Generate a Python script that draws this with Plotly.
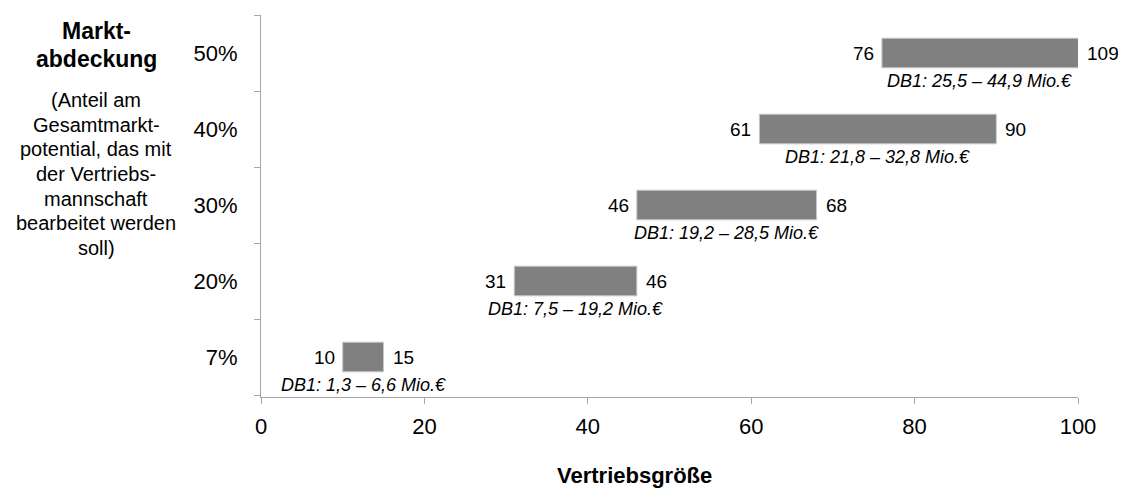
import plotly.graph_objects as go

# Data
coverage = ['7%', '20%', '30%', '40%', '50%']
size_low = [10, 31, 46, 61, 76]
size_high = [15, 46, 68, 90, 109]
db1_text = [
    'DB1: 1,3 – 6,6 Mio.€',
    'DB1: 7,5 – 19,2 Mio.€',
    'DB1: 19,2 – 28,5 Mio.€',
    'DB1: 21,8 – 32,8 Mio.€',
    'DB1: 25,5 – 44,9 Mio.€',
]
x_ticks = [0, 20, 40, 60, 80, 100]
x_max = 100

header_lines = ['Markt-', 'abdeckung']
note_lines = ['(Anteil am', 'Gesamtmarkt-', 'potential, das mit', 'der Vertriebs-',
              'mannschaft', 'bearbeitet werden', 'soll)']

FONT = 'Liberation Sans, Arial, sans-serif'
AXIS_GREY = '#a6a6a6'

# figure geometry (page has an 8px body margin)
W, H = 1118, 483
M_L, M_R, M_T, M_B = 253, 48, 7, 94
PLOT_W = W - M_L - M_R
PLOT_H = H - M_T - M_B


def px_x(x):
    # figure pixel -> paper x
    return (x - M_L) / PLOT_W


def px_y(y):
    # figure pixel -> paper y
    return 1 - (y - M_T) / PLOT_H


fig = go.Figure()

# Floating bars: base = lower bound, length = upper - lower (clipped at the axis max)
fig.add_trace(
    go.Bar(
        y=coverage,
        x=[hi - lo for lo, hi in zip(size_low, size_high)],
        base=size_low,
        orientation='h',
        width=0.39,
        marker=dict(color='#808080', line=dict(color='#c8c8c8', width=1)),
        hoverinfo='skip',
        showlegend=False,
    )
)

annotations = []
for cat, lo, hi, txt in zip(coverage, size_low, size_high, db1_text):
    # lower value, left of the bar
    annotations.append(dict(x=lo, y=cat, text=str(lo), showarrow=False,
                            xanchor='right', xshift=-6,
                            font=dict(size=19, color='#000000', family=FONT)))
    # upper value, right of the (visible) bar
    annotations.append(dict(x=min(hi, x_max), y=cat, text=str(hi), showarrow=False,
                            xanchor='left', xshift=7,
                            font=dict(size=19, color='#000000', family=FONT)))
    # DB1 range below the bar
    annotations.append(dict(x=(lo + min(hi, x_max)) / 2, y=cat, text='<i>' + txt + '</i>',
                            showarrow=False, xanchor='center', yshift=-28,
                            font=dict(size=18, color='#000000', family=FONT)))

# Left-hand axis description
for i, line in enumerate(header_lines):
    annotations.append(dict(xref='paper', yref='paper', x=px_x(88), y=px_y(23 + 28 * i),
                            text='<b>' + line + '</b>', showarrow=False,
                            xanchor='center', yanchor='middle',
                            font=dict(size=23, color='#000000', family=FONT)))
for i, line in enumerate(note_lines):
    annotations.append(dict(xref='paper', yref='paper', x=px_x(88), y=px_y(92 + 24.7 * i),
                            text=line, showarrow=False,
                            xanchor='center', yanchor='middle',
                            font=dict(size=20, color='#000000', family=FONT)))

# x axis title
annotations.append(dict(xref='paper', yref='paper', x=px_x(626), y=px_y(468),
                        text='<b>Vertriebsgröße</b>', showarrow=False,
                        xanchor='center', yanchor='middle',
                        font=dict(size=22, color='#000000', family=FONT)))

fig.update_layout(
    width=W,
    height=H,
    margin=dict(l=M_L, r=M_R, t=M_T, b=M_B),
    plot_bgcolor='white',
    paper_bgcolor='white',
    font=dict(family=FONT, color='#000000'),
    annotations=annotations,
    xaxis=dict(
        range=[0, x_max],
        tickvals=x_ticks,
        ticks='outside',
        ticklen=6,
        tickcolor=AXIS_GREY,
        showline=True,
        linecolor=AXIS_GREY,
        showgrid=False,
        zeroline=False,
        tickfont=dict(size=22),
        ticklabelstandoff=4,
    ),
    yaxis=dict(
        type='category',
        categoryorder='array',
        categoryarray=coverage,
        tickson='boundaries',
        ticks='outside',
        ticklen=6,
        tickcolor=AXIS_GREY,
        showline=True,
        linecolor=AXIS_GREY,
        showgrid=False,
        tickfont=dict(size=22),
        ticklabelstandoff=18,
    ),
)

fig.write_html('out.html')
